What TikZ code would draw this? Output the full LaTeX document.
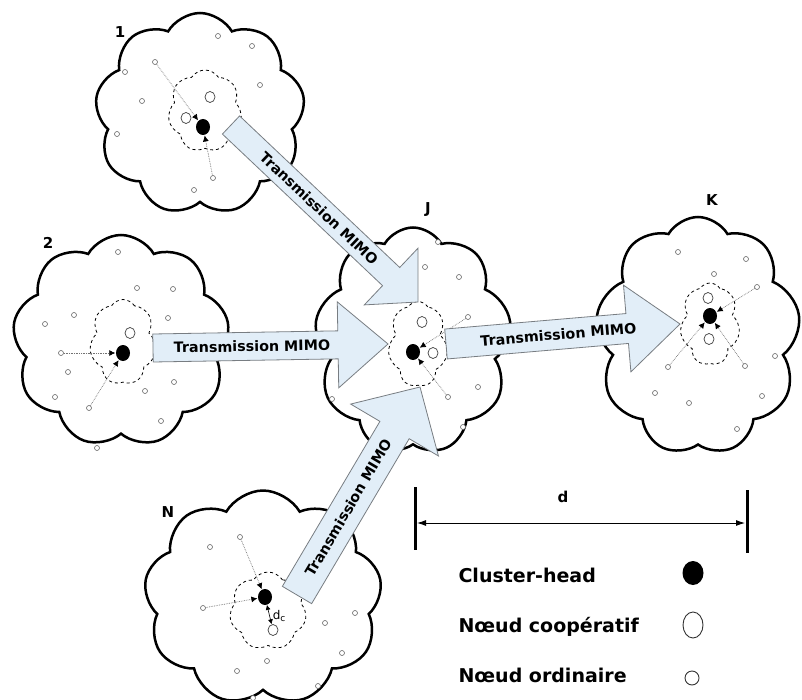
\documentclass[tikz,border=0pt]{standalone}
\usepackage{fontspec}
\newfontfamily\labfont{DejaVu Sans}
\usetikzlibrary{shapes.symbols,shapes.geometric,calc,arrows.meta}

\definecolor{arrowfill}{RGB}{226,238,248}
\definecolor{arrowline}{RGB}{120,125,130}

\tikzset{
  zone/.style={cloud, cloud puffs=9, cloud puff arc=120, draw=black,
    line width=2.5pt, fill=white, inner sep=0pt},
  core/.style={cloud, cloud puffs=7, cloud puff arc=115, draw=black,
    dashed, line width=0.8pt, inner sep=0pt},
  chead/.style={ellipse, fill=black, minimum width=14pt, minimum height=16pt, inner sep=0pt},
  coop/.style={ellipse, draw=black!75, line width=0.7pt, fill=white,
    minimum width=10pt, minimum height=11pt, inner sep=0pt},
  ord/.style={circle, draw=black!60, line width=0.6pt, fill=white,
    minimum size=5pt, inner sep=0pt},
  link/.style={densely dotted, draw=black!55, line width=0.7pt,
    -{Latex[length=6pt,width=6pt,black]}, shorten >=0.5pt},
  blk/.style={fill=arrowfill, draw=arrowline, line width=0.8pt, line join=miter},
  blktext/.style={font=\labfont\bfseries\fontsize{14.3}{15}\selectfont, inner sep=0pt},
  tag/.style={font=\labfont\bfseries\fontsize{15}{16}\selectfont},
  legend/.style={font=\labfont\bfseries\fontsize{19}{20}\selectfont, anchor=base west},
}

% block arrow from #1 (tail) to #2 (tip): half shaft #3, half head #4, head length #5, label position #6
\newcommand\blockarrow[6]{%
  \coordinate (#1-b) at ($(#2)!#5!(#1)$);
  \path[blk] ($(#1)!#3!90:(#2)$) -- ($(#1-b)!#3!90:(#2)$) -- ($(#1-b)!#4!90:(#2)$)
    -- (#2) -- ($(#1-b)!#4!-90:(#2)$) -- ($(#1-b)!#3!-90:(#2)$)
    -- ($(#1)!#3!-90:(#2)$) -- cycle;
  \path (#1) -- (#1-b) node[blktext, pos=#6, sloped] {Transmission MIMO};
}

\begin{document}
\begin{tikzpicture}[x=1pt,y=-1pt]
\fill[white] (0,0) rectangle (802,700);
\clip (0,0) rectangle (802,700);
\useasboundingbox (0,0) rectangle (802,700);

% ---------- clusters ----------
\node[zone, minimum width=210pt, minimum height=202pt] (c1) at (200,114) {};
\node[zone, minimum width=217pt, minimum height=212pt] (c2) at (121,341) {};
\node[zone, minimum width=197pt, minimum height=227pt] (cJ) at (413,341) {};
\node[zone, minimum width=205pt, minimum height=238pt] (cK) at (698,336) {};
\node[zone, minimum width=238pt, minimum height=215pt] (cN) at (263,598) {};

% cooperation zones
\node[core, minimum width=74pt, minimum height=82pt] (z1) at (205,111) {};
\node[core, minimum width=67pt, minimum height=85pt] (z2) at (123,342) {};
\node[core, minimum width=60pt, minimum height=85pt] (zJ) at (418,344) {};
\node[core, minimum width=60pt, minimum height=82pt] (zK) at (710,324) {};
\node[core, minimum width=77pt, minimum height=78pt] (zN) at (268,611) {};

% ordinary nodes
\foreach \p in {(218,36),(252,46),(125,72),(260,85),(142,101),(117,134),(194,190),
  (118,252),(137,288),(173,289),(74,315),(45,324),(168,318),(68,372),(174,382),
  (145,391),(55,397),(161,421),(97,448),
  (438,242),(425,267),(459,277),(478,387),(332,399),(463,427),
  (678,252),(746,259),(714,274),(775,356),(655,393),(689,403),(762,396),(737,429),
  (210,547),(355,613),(325,623),(342,653),(267,661),(237,671),(318,686),(253,698)}
  \node[ord] at \p {};

% ordinary nodes linked to their cluster-head
\node[ord] (o1a) at (155,62) {};
\node[ord] (o1b) at (213,178) {};
\node[ord] (o2a) at (61,353) {};
\node[ord] (o2b) at (89,408) {};
\node[ord] (oJa) at (468,317) {};
\node[ord] (oJb) at (448,397) {};
\node[ord] (oKa) at (757,287) {};
\node[ord] (oKb) at (668,367) {};
\node[ord] (oKc) at (745,366) {};
\node[ord] (oNa) at (240,537) {};
\node[ord] (oNb) at (203,608) {};

% cooperative nodes
\node[coop] (p1a) at (210,97) {};
\node[coop] (p1b) at (186,118) {};
\node[coop] (p2a) at (130,333) {};
\node[coop] (pJa) at (422,322) {};
\node[coop] (pJb) at (433,353) {};
\node[coop] (pKa) at (708,298) {};
\node[coop] (pKb) at (709,339) {};
\node[coop] (pNa) at (273,630) {};

% cluster-heads
\node[chead] (h1) at (203,127) {};
\node[chead] (h2) at (123,353) {};
\node[chead] (hJ) at (413,352) {};
\node[chead] (hK) at (710,316) {};
\node[chead] (hN) at (265,597) {};

% intra-cluster links
\draw[link] (o1a) -- (h1);
\draw[link] (o1b) -- (h1);
\draw[link] (o2a) -- (h2);
\draw[link] (o2b) -- (h2);
\draw[link] (oJa) -- (hJ);
\draw[link] (oJb) -- (hJ);
\draw[link] (oKa) -- (hK);
\draw[link] (oKb) -- (hK);
\draw[link] (oKc) -- (hK);
\draw[link] (oNa) -- (hN);
\draw[link] (oNb) -- (hN);
\draw[{Latex[length=5pt,width=5pt]}-{Latex[length=5pt,width=5pt]}, line width=0.6pt]
  (hN) -- (pNa) node[pos=0.55, right=3pt, font=\labfont\fontsize{12}{12}\selectfont, inner sep=0pt]
  {d\raisebox{-2pt}{\fontsize{9}{9}\selectfont c}};

% cluster labels
\node[tag] (l1) at (120,32) {1};
\node[tag] (l2) at (48,243) {2};
\node[tag] (lJ) at (428,210) {J};
\node[tag] (lK) at (712,200) {K};
\node[tag] (lN) at (168,512) {N};

% MIMO transmissions between cluster-heads
\coordinate (t1) at (231,125);  \coordinate (e1) at (418,302);
\coordinate (t2) at (153,348);  \coordinate (e2) at (388,344);
\coordinate (tN) at (297,595);  \coordinate (eN) at (420,387);
\coordinate (tK) at (446,344);  \coordinate (eK) at (680,324);
\blockarrow{t1}{e1}{12.5pt}{39pt}{37pt}{0.55}
\blockarrow{t2}{e2}{14pt}{43pt}{50pt}{0.535}
\blockarrow{tN}{eN}{17pt}{51pt}{50pt}{0.53}
\blockarrow{tK}{eK}{15pt}{43.5pt}{53pt}{0.62}

% distance between clusters
\coordinate (dA) at (415,487); \coordinate (dB) at (415,550);
\coordinate (dC) at (747,490); \coordinate (dD) at (747,553);
\draw[line width=3pt] (dA) -- (dB);
\draw[line width=3pt] (dC) -- (dD);
\coordinate (dL) at (417,523); \coordinate (dR) at (745,523);
\draw[{Latex[length=9pt,width=6pt]}-{Latex[length=9pt,width=6pt]}, line width=0.9pt] (dL) -- (dR);
\node[tag] (dlab) at (563,497) {d};

% legend
\node[legend] (k1) at (455,582) {Cluster-head};
\node[legend] (k2) at (455,632) {Nœud coopératif};
\node[legend] (k3) at (455,682) {Nœud ordinaire};
\node[ellipse, fill=black, minimum width=21pt, minimum height=24pt, inner sep=0pt] (s1) at (693,573) {};
\node[ellipse, draw=black!80, line width=0.9pt, minimum width=20pt, minimum height=26pt, inner sep=0pt] (s2) at (693,625) {};
\node[circle, draw=black!80, line width=0.9pt, minimum size=14pt, inner sep=0pt] (s3) at (692,678) {};
\end{tikzpicture}
\end{document}
